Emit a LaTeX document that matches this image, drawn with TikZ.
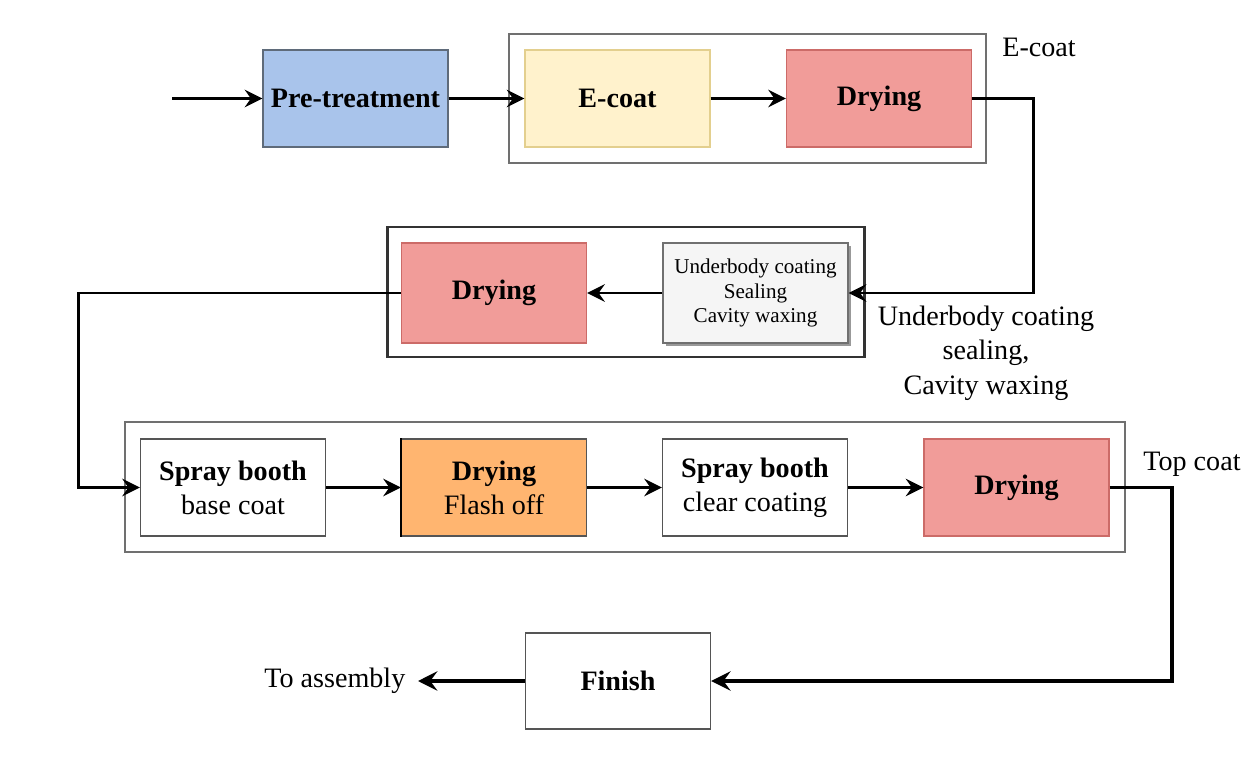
\documentclass[tikz,border=0pt]{standalone}
\usepackage{fontspec}
\setmainfont{Liberation Serif}
\usepackage{tikz}
\usetikzlibrary{arrows.meta, positioning, shadows}

\definecolor{pretreat}{HTML}{A9C4EB}
\definecolor{pretreatline}{HTML}{5F6B7A}
\definecolor{ecoatfill}{HTML}{FFF2CC}
\definecolor{ecoatline}{HTML}{E3CF8E}
\definecolor{dryfill}{HTML}{F19C99}
\definecolor{dryline}{HTML}{CC6B68}
\definecolor{flashfill}{HTML}{FFB570}
\definecolor{sealfill}{HTML}{F5F5F5}
\definecolor{sealline}{HTML}{707070}
\definecolor{boxline}{HTML}{555555}
\definecolor{grpline}{HTML}{707070}
\definecolor{grpdark}{HTML}{333333}

\begin{document}
\begin{tikzpicture}[
      block/.style={rectangle, draw=boxline, line width=0.8pt, fill=white, minimum width=3.7cm, minimum height=1.94cm, inner sep=1pt, align=center, font=\fontsize{16}{19.4}\selectfont},
      dry/.style={block, fill=dryfill, draw=dryline},
      grp/.style={rectangle, draw=grpline, line width=1.2pt, minimum height=2.58cm},
      lbl/.style={inner sep=0pt, align=center, font=\fontsize{16}{19.4}\selectfont},
      flow/.style={-{Stealth[length=10pt, width=10pt, inset=3.5pt]}, line width=1.6pt},
      bigflow/.style={-{Stealth[length=11pt, width=11pt, inset=4pt]}, line width=2.2pt}]

      \useasboundingbox (0,0) rectangle (25.04,-15.34);

      % Groups
      \node[grp, minimum width=9.54cm] (ecoatgrp) at (14.95,-1.97) {};
      \node[grp, minimum width=9.54cm, minimum height=2.6cm, line width=1.7pt, draw=grpdark] (sealgrp) at (12.51,-5.84) {};
      \node[grp, minimum width=20cm, minimum height=2.6cm] (topgrp) at (12.5,-9.74) {};

      % Blocks
      \node[block, fill=pretreat, draw=pretreatline] (pre) at (7.11,-1.97) {\textbf{Pre-treatment}};
      \node[block, fill=ecoatfill, draw=ecoatline] (ecoat) at (12.35,-1.97) {\textbf{E-coat}};
      \node[dry] (dry1) at (17.58,-1.97) {\textbf{Drying}};
      \node[dry, minimum height=2cm] (dry2) at (9.88,-5.86) {\textbf{Drying}};
      \node[block, minimum height=2cm, fill=sealfill, draw=sealline, font=\fontsize{12}{14.2}\selectfont,
            drop shadow={shadow xshift=0.06cm, shadow yshift=-0.06cm, fill=black!40, opacity=1}] (seal) at (15.11,-5.86) {Underbody coating\\Sealing\\Cavity waxing};
      \node[block] (spray1) at (4.66,-9.75) {\textbf{Spray booth}\\base coat};
      \node[block, fill=flashfill] (flash) at (9.88,-9.75) {\textbf{Drying}\\Flash off};
      \draw[line width=1.4pt] (flash.north west) -- (flash.south west);
      \node[block] (spray2) at (15.10,-9.75) {\textbf{Spray booth}\\clear coating};
      \node[dry] (dry4) at (20.33,-9.75) {\textbf{Drying}};
      \node[block, minimum height=1.92cm] (finish) at (12.36,-13.62) {\textbf{Finish}};

      % Labels
      \node[lbl, anchor=base west] (ecoatlbl) at (20.04,-1.14) {E-coat};
      \node[lbl, anchor=north] (seallbl) at (19.72,-6.12) {Underbody coating\\sealing,\\Cavity waxing};
      \node[lbl, anchor=base west] (toplbl) at (22.86,-9.40) {Top coat};
      \node[lbl, anchor=east, inner xsep=7pt] (assembly) at (8.36,-13.62) {To assembly};

      % Arrows
      \coordinate (entry) at (3.44,-1.97);
      \draw[flow] (entry) -- (pre);
      \draw[flow] (pre) -- (ecoat);
      \draw[flow] (ecoat) -- (dry1);
      \draw[flow] (dry1.east) -- ++(1.22,0) |- (seal.east);
      \draw[flow] (seal) -- (dry2);
      \draw[flow] (dry2.west) -- ++(-6.44,0) |- (spray1.west);
      \draw[flow] (spray1) -- (flash);
      \draw[flow] (flash) -- (spray2);
      \draw[flow] (spray2) -- (dry4);
      \draw[bigflow] (dry4.east) -- ++(1.24,0) |- (finish.east);
      \draw[bigflow] (finish) -- (assembly);
    \end{tikzpicture}
\end{document}
